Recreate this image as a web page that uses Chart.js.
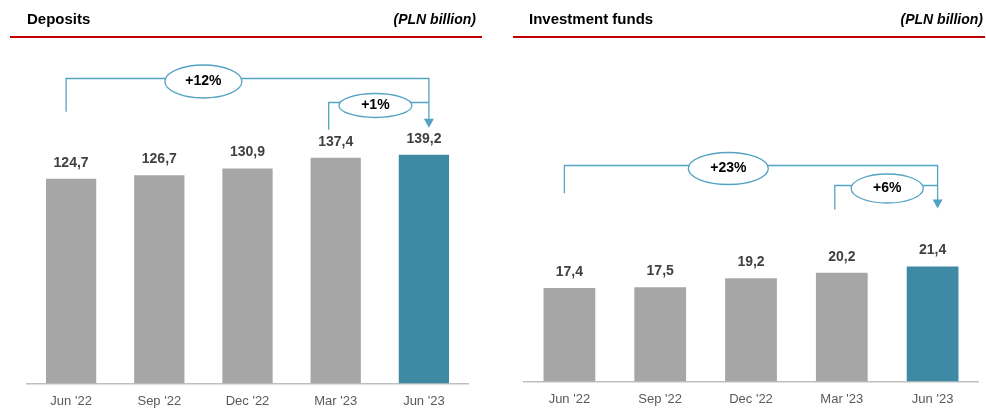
<!DOCTYPE html>
<html>
<head>
<meta charset="utf-8">
<script src="https://cdn.jsdelivr.net/npm/chart.js@4/dist/chart.umd.min.js"></script>
<style>
  body { margin: 0; width: 986px; height: 412px; background: #fff; position: relative; overflow: hidden;
         font-family: "Liberation Sans", Arial, sans-serif; }
  .panel { position: absolute; top: 0; width: 493px; height: 412px; overflow: hidden; }
  .panel canvas { position: absolute; left: 0; top: 0; }
  .title { position: absolute; top: 10px; font-weight: bold; font-size: 15px; color: #000; }
  .unit { position: absolute; top: 11px; font-weight: bold; font-style: italic; font-size: 14px; color: #000; }
  .rule { position: absolute; top: 36px; height: 2px; background: #c00000; }
</style>
</head>
<body>
<div class="panel" style="left:0">
  <canvas id="deposits" width="493" height="423"></canvas>
  <div class="title" style="left:27px">Deposits</div>
  <div class="unit" style="right:17px">(PLN billion)</div>
  <div class="rule" style="left:10px; width:472px"></div>
</div>
<div class="panel" style="left:493px">
  <canvas id="funds" width="493" height="423"></canvas>
  <div class="title" style="left:36px">Investment funds</div>
  <div class="unit" style="right:3px">(PLN billion)</div>
  <div class="rule" style="left:20px; width:472px"></div>
</div>
<script>
const categories = ["Jun '22", "Sep '22", "Dec '22", "Mar '23", "Jun '23"];
const depositValues = [124.7, 126.7, 130.9, 137.4, 139.2];
const fundValues = [17.4, 17.5, 19.2, 20.2, 21.4];
const depositChanges = ['+12%', '+1%'];
const fundChanges = ['+23%', '+6%'];

const GREY = '#a6a6a6';
const TEAL = '#3e8aa5';
const LINE = '#55a3c4';

// brackets: from / to are category indexes, level and drop are axis values
const depositBrackets = [
  { from: 0, to: 4, level: 186, drop: 165.5, tip: 155.7, at: 1.5, w: 77, h: 33, text: depositChanges[0] },
  { from: 3, to: 4, level: 171.5, drop: 154.5, tip: null, at: 3.45, w: 73, h: 24, text: depositChanges[1] }
];
const fundBrackets = [
  { from: 0, to: 4, level: 40.2, drop: 35.0, tip: 32.2, at: 1.75, w: 80, h: 32, text: fundChanges[0] },
  { from: 3, to: 4, level: 36.5, drop: 32.0, tip: null, at: 3.5, w: 72, h: 29, text: fundChanges[1] }
];

function fmt(v) {
  return v.toFixed(1).replace('.', ',');
}

const extras = {
  id: 'extras',
  afterDatasetsDraw(chart, args, opts) {
    const ctx = chart.ctx;
    const x = chart.scales.x, y = chart.scales.y;
    const meta = chart.getDatasetMeta(0);

    // value labels
    ctx.save();
    ctx.font = 'bold 14px "Liberation Sans", Arial, sans-serif';
    ctx.fillStyle = '#404040';
    ctx.textAlign = 'center';
    ctx.textBaseline = 'bottom';
    meta.data.forEach((bar, i) => {
      ctx.fillText(fmt(chart.data.datasets[0].data[i]), bar.x, bar.y - 9);
    });
    ctx.restore();

    // growth brackets
    ctx.save();
    ctx.strokeStyle = LINE;
    ctx.fillStyle = LINE;
    ctx.lineWidth = 1.3;
    const arrowX = x.getPixelForValue(4) + 5;
    opts.brackets.forEach(b => {
      const x0 = x.getPixelForValue(b.from) - (b.from === 0 ? 5 : 7);
      const yl = Math.round(y.getPixelForValue(b.level)) + 0.5;
      ctx.beginPath();
      ctx.moveTo(x0, y.getPixelForValue(b.drop));
      ctx.lineTo(x0, yl);
      ctx.lineTo(arrowX, yl);
      if (b.tip !== null) {
        const ty = y.getPixelForValue(b.tip);
        ctx.lineTo(arrowX, ty - 8);
      }
      ctx.stroke();
      if (b.tip !== null) {
        const ty = y.getPixelForValue(b.tip);
        ctx.beginPath();
        ctx.moveTo(arrowX - 5, ty - 9);
        ctx.lineTo(arrowX + 5, ty - 9);
        ctx.lineTo(arrowX, ty);
        ctx.closePath();
        ctx.fill();
      }
      const cx = x.getPixelForValue(b.at);
      ctx.beginPath();
      ctx.ellipse(cx, yl + 3, b.w / 2, b.h / 2, 0, 0, Math.PI * 2);
      ctx.fillStyle = '#fff';
      ctx.fill();
      ctx.stroke();
      ctx.fillStyle = '#000';
      ctx.font = 'bold 14px "Liberation Sans", Arial, sans-serif';
      ctx.textAlign = 'center';
      ctx.textBaseline = 'middle';
      ctx.fillText(b.text, cx, yl + 3);
      ctx.fillStyle = LINE;
    });
    ctx.restore();
  }
};

function makeChart(id, values, max, brackets, padding) {
  return new Chart(document.getElementById(id), {
    type: 'bar',
    plugins: [extras],
    data: {
      labels: categories,
      datasets: [{
        data: values,
        backgroundColor: values.map((v, i) => i === values.length - 1 ? TEAL : GREY),
        borderWidth: 0,
        categoryPercentage: 1,
        barPercentage: 0.57
      }]
    },
    options: {
      responsive: false,
      animation: false,
      layout: { padding: padding },
      scales: {
        x: {
          grid: { display: false, drawTicks: false },
          border: { display: true, color: '#bfbfbf', width: 1.5 },
          ticks: {
            color: '#595959',
            padding: 10,
            font: { family: '"Liberation Sans", Arial, sans-serif', size: 13 }
          }
        },
        y: { display: false, min: 0, max: max }
      },
      plugins: {
        legend: { display: false },
        tooltip: { enabled: false },
        extras: { brackets: brackets }
      }
    }
  });
}

makeChart('deposits', depositValues, 200, depositBrackets, { left: 27, right: 25, top: 55, bottom: 4 });
makeChart('funds', fundValues, 60, fundBrackets, { left: 31, right: 8, top: 59, bottom: 6 });
</script>
</body>
</html>
